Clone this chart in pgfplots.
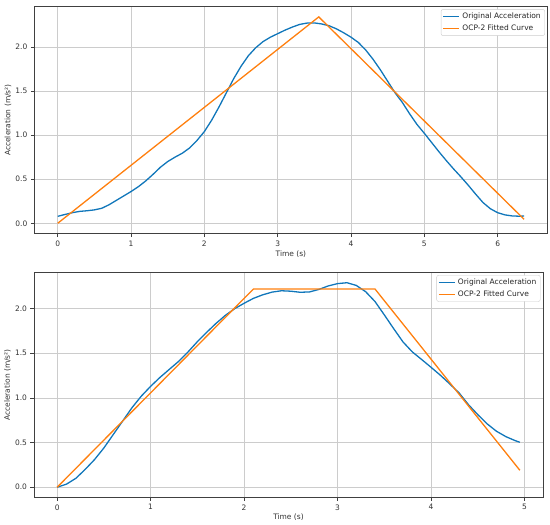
\documentclass[border=0pt]{standalone}
\usepackage{pgfplots}
\pgfplotsset{compat=1.18}
\usepackage{fontspec}
\setmainfont{DejaVu Sans}
\definecolor{mblue}{RGB}{16,118,186}
\definecolor{morange}{RGB}{255,127,14}
\newcommand{\sz}{\fontsize{7.5}{9}\selectfont}
\pgfplotsset{
  myaxis/.style={
    scale only axis,
    axis line style={black!75, line width=0.7pt},
    tick align=outside,
    xtick pos=lower, ytick pos=left,
    major tick length=3.5pt,
    tick style={black!75, line width=0.6pt},
    grid=major,
    major grid style={line width=0.6pt, color=black!20},
    /pgf/number format/assume math mode=true,
    tick label style={font=\sz, text=black!80},
    label style={font=\sz, text=black!80},
    yticklabel style={/pgf/number format/fixed, /pgf/number format/fixed zerofill, /pgf/number format/precision=1},
    xticklabel style={/pgf/number format/fixed, /pgf/number format/precision=0},
    ytick={0,0.5,1,1.5,2},
    xlabel style={at={(axis description cs:0.5,0)}, anchor=center, yshift=-20.5pt},
    ylabel style={at={(axis description cs:0,0.5)}, anchor=center, yshift=26.4pt},
    legend style={at={(1,1)}, anchor=north east, xshift=-2.5pt, yshift=-2.6pt,
      draw=black!20, rounded corners=2pt, font=\sz, text=black!85,
      inner xsep=1.5pt, inner ysep=1pt,
      nodes={inner xsep=2.5pt, inner ysep=2.5pt, text height=5.6pt, text depth=1.5pt}},
    legend cell align=left,
    legend image code/.code={\draw[#1, line width=1.3pt] (0pt,0pt) -- (16pt,0pt);},
    xlabel={Time (s)},
    ylabel={Acceleration (m/s²)},
  }
}
\begin{document}
\begin{tikzpicture}
\path[use as bounding box] (0,0) rectangle (550pt,525pt);
\begin{axis}[myaxis,
  at={(34.4pt,291.4pt)}, anchor=south west,
  width=513pt, height=227pt,
  xmin=-0.318, xmax=6.678, ymin=-0.117, ymax=2.457,
  xtick={0,1,2,3,4,5,6},
]
\addplot[mblue, line width=1.3pt] coordinates {
(0,0.079) (0.1,0.10) (0.2,0.12) (0.3,0.135) (0.4,0.142) (0.5,0.152) (0.6,0.17)
(0.7,0.21) (0.8,0.26) (0.9,0.31) (1.0,0.36) (1.1,0.415) (1.2,0.48) (1.3,0.555)
(1.4,0.635) (1.5,0.70) (1.6,0.75) (1.7,0.795) (1.8,0.855) (1.9,0.94) (2.0,1.04)
(2.1,1.17) (2.2,1.32) (2.3,1.48) (2.4,1.64) (2.5,1.78) (2.6,1.90) (2.7,1.99)
(2.8,2.06) (2.9,2.11) (3.0,2.15) (3.1,2.19) (3.2,2.225) (3.3,2.255) (3.4,2.27)
(3.5,2.272) (3.6,2.26) (3.7,2.24) (3.8,2.205) (3.9,2.16) (4.0,2.11) (4.1,2.05)
(4.2,1.965) (4.3,1.86) (4.4,1.74) (4.5,1.61) (4.6,1.48) (4.7,1.37) (4.8,1.24)
(4.9,1.12) (5.0,1.02) (5.1,0.915) (5.2,0.81) (5.3,0.71) (5.4,0.615) (5.5,0.525)
(5.6,0.43) (5.7,0.33) (5.8,0.235) (5.9,0.165) (6.0,0.12) (6.1,0.095) (6.2,0.083)
(6.3,0.08) (6.36,0.082)
};
\addlegendentry{Original Acceleration}
\addplot[morange, line width=1.3pt] coordinates {(0,0) (3.56,2.34) (6.36,0.045)};
\addlegendentry{OCP-2 Fitted Curve}
\end{axis}
\begin{axis}[myaxis,
  at={(34pt,27.5pt)}, anchor=south west,
  width=509pt, height=225pt,
  xmin=-0.2475, xmax=5.1975, ymin=-0.1145, ymax=2.4045,
  xtick={0,1,2,3,4,5},
  xlabel style={yshift=1pt},
]
\addplot[mblue, line width=1.3pt] coordinates {
(0,0.0) (0.1,0.035) (0.2,0.10) (0.3,0.20) (0.4,0.31) (0.5,0.44) (0.6,0.59)
(0.7,0.74) (0.8,0.89) (0.9,1.02) (1.0,1.13) (1.1,1.23) (1.2,1.32) (1.3,1.41)
(1.4,1.515) (1.5,1.63) (1.6,1.735) (1.7,1.835) (1.8,1.925) (1.9,2.0) (2.0,2.06)
(2.1,2.115) (2.2,2.155) (2.3,2.185) (2.4,2.2) (2.5,2.195) (2.6,2.183) (2.7,2.187)
(2.8,2.215) (2.9,2.254) (3.0,2.28) (3.1,2.29) (3.2,2.26) (3.3,2.19) (3.4,2.08)
(3.5,1.93) (3.6,1.776) (3.7,1.627) (3.8,1.515) (3.9,1.43) (4.0,1.343) (4.1,1.254)
(4.2,1.157) (4.3,1.056) (4.4,0.925) (4.5,0.813) (4.6,0.71) (4.7,0.627) (4.8,0.567)
(4.9,0.522) (4.95,0.504)
};
\addlegendentry{Original Acceleration}
\addplot[morange, line width=1.3pt] coordinates {(0,0) (2.1,2.22) (3.4,2.22) (4.95,0.19)};
\addlegendentry{OCP-2 Fitted Curve}
\end{axis}
\end{tikzpicture}
\end{document}
